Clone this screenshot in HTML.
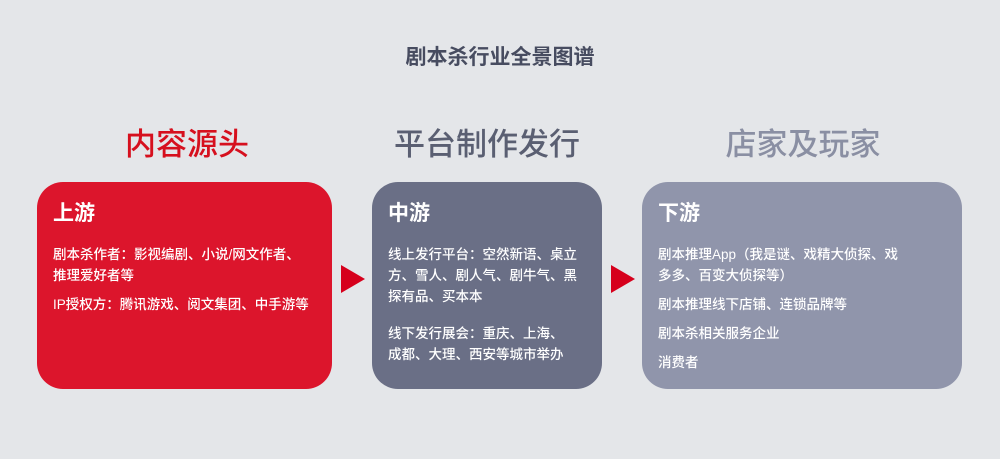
<!DOCTYPE html><html><head><meta charset="utf-8"><style>
body{margin:0;width:1000px;height:459px;background:#e4e6e9;font-family:"Liberation Sans","Noto Sans CJK SC",sans-serif;position:relative;overflow:hidden}
.a{position:absolute}
.t{left:0;width:1000px;text-align:center;top:41px;font-size:21px;font-weight:bold;color:#474c60}
.h{font-size:31px;top:119px;text-align:center;width:300px;font-weight:500}
.b{border-radius:26px;color:#fff;box-sizing:border-box;padding:19px 16px 0 16px}
.b h2{margin:0 0 17px 0;font-size:21px;font-weight:bold;line-height:26px}
.b p{margin:0 0 8px 0;font-size:13.5px;line-height:21px;font-weight:500}
.tri{width:0;height:0;border-top:14px solid transparent;border-bottom:14px solid transparent;border-left:24px solid #d6001c}
</style></head><body>
<div class="a t">剧本杀行业全景图谱</div>
<div class="a h" style="left:37px;color:#d6101e">内容源头</div>
<div class="a h" style="left:337px;color:#5a5f72">平台制作发行</div>
<div class="a h" style="left:653px;color:#8a8fa3">店家及玩家</div>
<div class="a b" style="left:37px;top:182px;width:295px;height:207px;background:#dc152c">
<h2>上游</h2><p style="width:250px">剧本杀作者：影视编剧、小说/网文作者、推理爱好者等</p><p>IP授权方：腾讯游戏、阅文集团、中手游等</p></div>
<div class="a tri" style="left:341px;top:265px"></div>
<div class="a b" style="left:372px;top:182px;width:230px;height:207px;background:#6a6f86">
<h2>中游</h2><p style="width:192px">线上发行平台：空然新语、桌立方、雪人、剧人气、剧牛气、黑探有品、买本本</p><p style="margin-top:16px;width:180px">线下发行展会：重庆、上海、成都、大理、西安等城市举办</p></div>
<div class="a tri" style="left:611px;top:265px"></div>
<div class="a b" style="left:642px;top:182px;width:320px;height:207px;background:#9095ab">
<h2>下游</h2><p style="width:252px">剧本推理App（我是谜、戏精大侦探、戏多多、百变大侦探等）</p><p>剧本推理线下店铺、连锁品牌等</p><p>剧本杀相关服务企业</p><p>消费者</p></div>
</body></html>
